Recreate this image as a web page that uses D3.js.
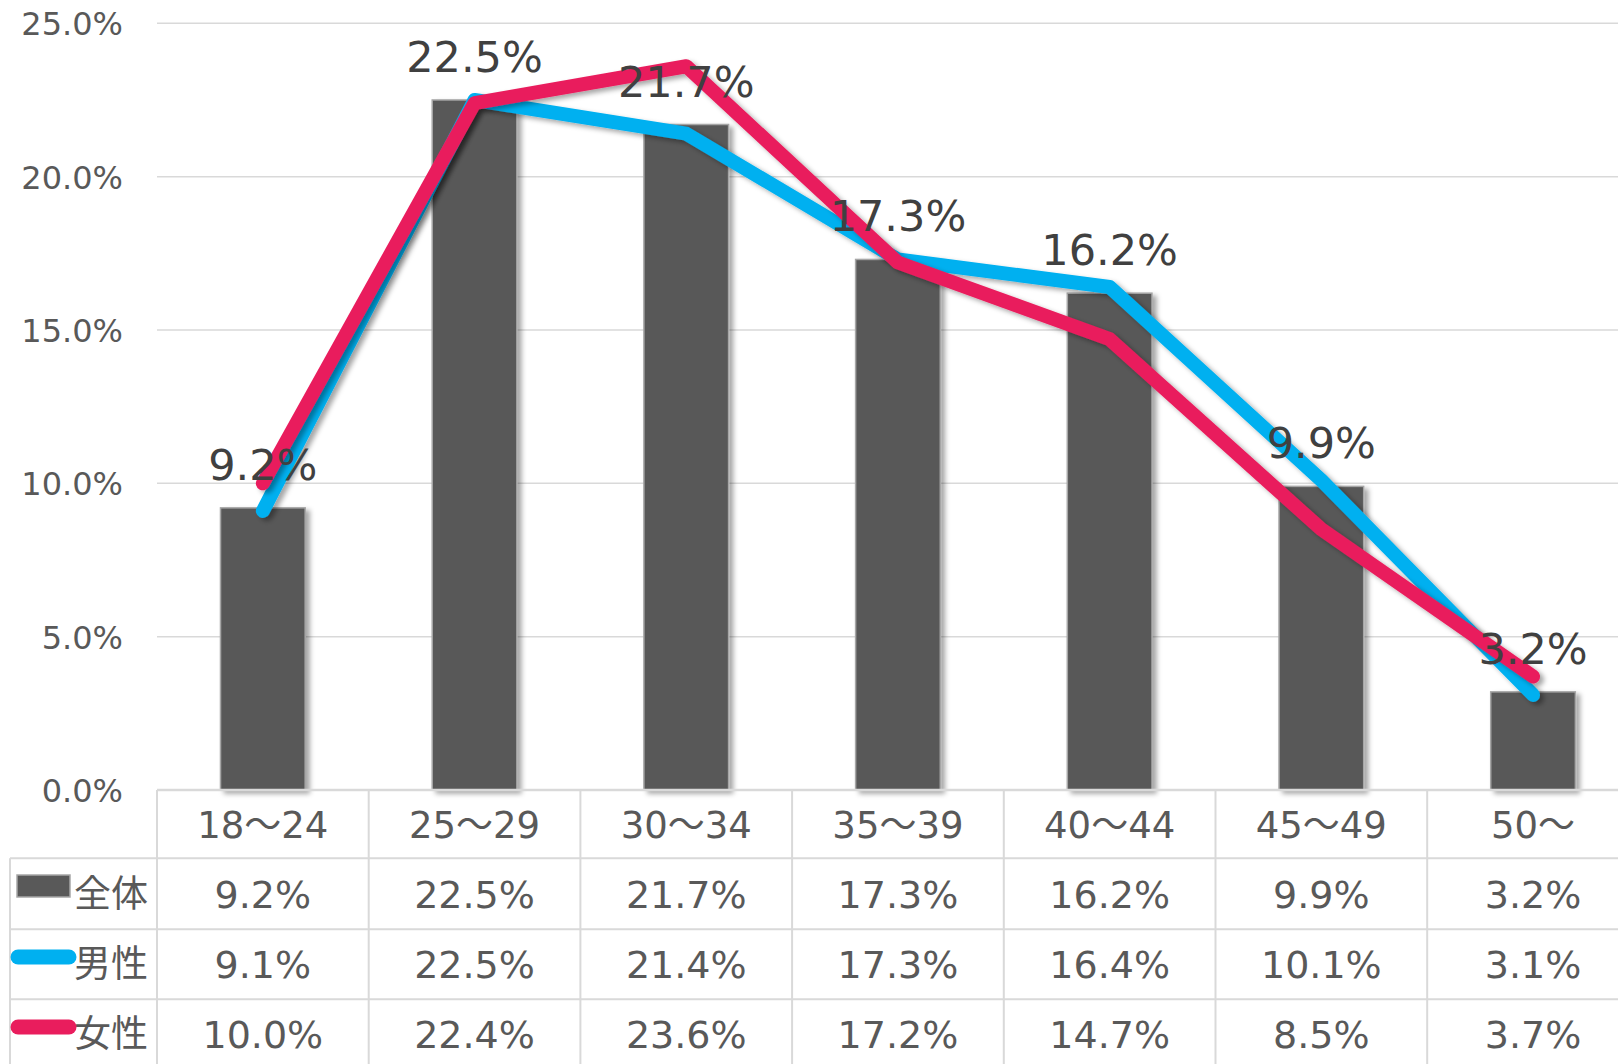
<!DOCTYPE html>
<html>
<head>
<meta charset="utf-8">
<script src="https://cdn.jsdelivr.net/npm/d3@7"></script>
<style>
  html, body { margin: 0; padding: 0; background: #fff; overflow: hidden; }
  text { font-family: "DejaVu Sans", "Noto Sans CJK JP", sans-serif; }
</style>
</head>
<body>
<div id="chart"></div>
<script>
// data
var categories = ['18～24', '25～29', '30～34', '35～39', '40～44', '45～49', '50～'];
var totalValues = [9.2, 22.5, 21.7, 17.3, 16.2, 9.9, 3.2];
var maleValues = [9.1, 22.5, 21.4, 17.3, 16.4, 10.1, 3.1];
var femaleValues = [10.0, 22.4, 23.6, 17.2, 14.7, 8.5, 3.7];
var yTicks = [0, 5, 10, 15, 20, 25];
var seriesNames = ['全体', '男性', '女性'];

var width = 1618,
    height = 1064,
    plotLeft = 157,
    bandW = 211.7,
    yTop = 23.3,
    yBottom = 790,
    gridColor = '#D9D9D9',
    textColor = '#595959',
    labelColor = '#404040',
    barFill = '#595959',
    blue = '#00B0F0',
    pink = '#E91D5D';

var svg = d3.select('#chart').append('svg')
    .attr('width', width)
    .attr('height', height);

var defs = svg.append('defs');
defs.append('filter')
    .attr('id', 'shadow')
    .attr('x', '-20%').attr('y', '-20%')
    .attr('width', '140%').attr('height', '140%')
    .append('feDropShadow')
    .attr('dx', 4).attr('dy', 3)
    .attr('stdDeviation', 2.5)
    .attr('flood-color', '#000')
    .attr('flood-opacity', 0.35);

var x = d3.scaleBand()
    .domain(categories)
    .range([plotLeft, plotLeft + bandW * categories.length])
    .padding(0);

var y = d3.scaleLinear()
    .domain([0, 25])
    .range([yBottom, yTop]);

var cx = function (d) { return x(d) + x.bandwidth() / 2; };
var fmt = function (v) { return v.toFixed(1) + '%'; };

// gridlines
svg.append('g').selectAll('line')
    .data(yTicks.filter(function (t) { return t > 0; }))
    .join('line')
    .attr('x1', plotLeft).attr('x2', width)
    .attr('y1', function (d) { return y(d); })
    .attr('y2', function (d) { return y(d); })
    .attr('stroke', gridColor)
    .attr('stroke-width', 1.5);

// y tick labels
svg.append('g').selectAll('text')
    .data(yTicks)
    .join('text')
    .attr('x', 123)
    .attr('y', function (d) { return y(d) + 12; })
    .attr('text-anchor', 'end')
    .attr('font-size', 32)
    .attr('fill', textColor)
    .text(fmt);

// bars
var barW = x.bandwidth() * 0.4;
svg.append('g').selectAll('rect')
    .data(categories)
    .join('rect')
    .attr('x', function (d) { return cx(d) - barW / 2; })
    .attr('y', function (d, i) { return y(totalValues[i]); })
    .attr('width', barW)
    .attr('height', function (d, i) { return yBottom - y(totalValues[i]); })
    .attr('fill', barFill)
    .attr('stroke', '#A6A6A6')
    .attr('stroke-width', 1.5)
    .attr('filter', 'url(#shadow)');

// lines
var line = d3.line()
    .x(function (d, i) { return cx(categories[i]); })
    .y(function (d) { return y(d); });

[[maleValues, blue], [femaleValues, pink]].forEach(function (s) {
    svg.append('path')
        .datum(s[0])
        .attr('d', line)
        .attr('fill', 'none')
        .attr('stroke', s[1])
        .attr('stroke-width', 14)
        .attr('stroke-linecap', 'round')
        .attr('stroke-linejoin', 'round')
        .attr('filter', 'url(#shadow)');
});

// data labels (total)
svg.append('g').selectAll('text')
    .data(categories)
    .join('text')
    .attr('x', cx)
    .attr('y', function (d, i) { return y(totalValues[i]) - 28; })
    .attr('text-anchor', 'middle')
    .attr('font-size', 43)
    .attr('fill', labelColor)
    .text(function (d, i) { return fmt(totalValues[i]); });

// data table
var rowLines = [yBottom, 858.3, 929.3, 999.3];
var table = svg.append('g');

table.append('line')
    .attr('x1', plotLeft).attr('x2', width)
    .attr('y1', yBottom).attr('y2', yBottom)
    .attr('stroke', gridColor).attr('stroke-width', 2.5);

table.selectAll('.hline')
    .data(rowLines.slice(1))
    .join('line')
    .attr('class', 'hline')
    .attr('x1', 10).attr('x2', width)
    .attr('y1', function (d) { return d; })
    .attr('y2', function (d) { return d; })
    .attr('stroke', gridColor).attr('stroke-width', 2);

table.selectAll('.vline')
    .data(categories)
    .join('line')
    .attr('class', 'vline')
    .attr('x1', function (d) { return x(d); })
    .attr('x2', function (d) { return x(d); })
    .attr('y1', yBottom).attr('y2', height)
    .attr('stroke', gridColor).attr('stroke-width', 2);

table.append('line')
    .attr('x1', 10).attr('x2', 10)
    .attr('y1', rowLines[1]).attr('y2', height)
    .attr('stroke', gridColor).attr('stroke-width', 2);

// category row
table.selectAll('.cat')
    .data(categories)
    .join('text')
    .attr('class', 'cat')
    .attr('x', cx)
    .attr('y', 838)
    .attr('text-anchor', 'middle')
    .attr('font-size', 37)
    .attr('fill', textColor)
    .text(function (d) { return d; });

// value rows
var rows = [totalValues, maleValues, femaleValues];
var rowBase = [908, 978, 1048];
rows.forEach(function (vals, r) {
    table.selectAll('.val' + r)
        .data(vals)
        .join('text')
        .attr('class', 'val' + r)
        .attr('x', function (d, i) { return cx(categories[i]); })
        .attr('y', rowBase[r])
        .attr('text-anchor', 'middle')
        .attr('font-size', 38)
        .attr('fill', textColor)
        .text(fmt);

    table.append('text')
        .attr('x', 74)
        .attr('y', rowBase[r] - 1)
        .attr('font-size', 37)
        .attr('fill', textColor)
        .attr('font-family', '"Noto Sans CJK JP", sans-serif')
        .text(seriesNames[r]);
});

// legend keys
table.append('rect')
    .attr('x', 17).attr('y', 875)
    .attr('width', 53).attr('height', 22)
    .attr('fill', barFill)
    .attr('stroke', '#A6A6A6')
    .attr('stroke-width', 1.5);

[[957, blue], [1027, pink]].forEach(function (k) {
    table.append('line')
        .attr('x1', 18).attr('x2', 69)
        .attr('y1', k[0]).attr('y2', k[0])
        .attr('stroke', k[1])
        .attr('stroke-width', 15)
        .attr('stroke-linecap', 'round');
});
</script>
</body>
</html>
